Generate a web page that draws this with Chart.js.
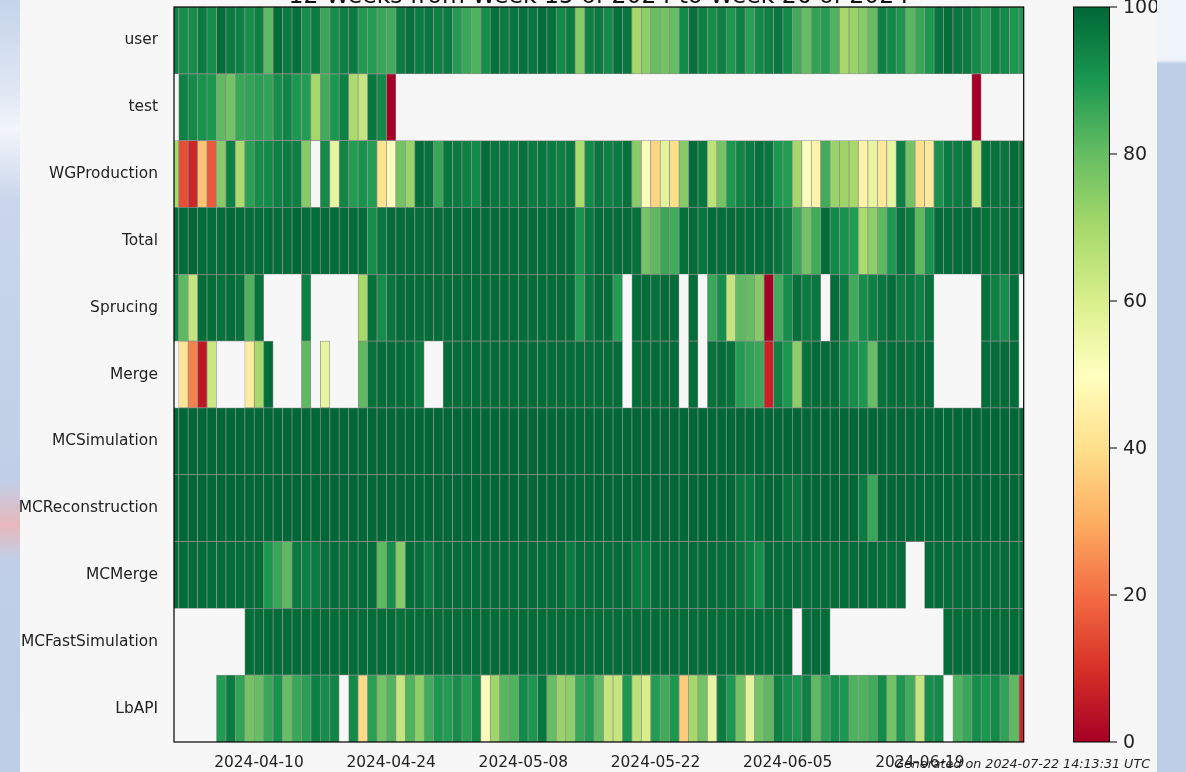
<!DOCTYPE html>
<html>
<head>
<meta charset="utf-8">
<script src="https://cdn.jsdelivr.net/npm/chart.js@4"></script>
<style>
  html, body { margin: 0; padding: 0; }
  body {
    width: 1186px; height: 772px; overflow: hidden; position: relative;
    background:
      linear-gradient(to bottom, #eef4f9 0, #eef4f9 60px, #bccde6 64px) right top / 29px 100% no-repeat,
      linear-gradient(to bottom, #c5d4ea 0, #dfe7f3 90px, #f2f5fa 130px, #c9d6eb 200px, #c0cfe7 480px, #e7b8bc 525px, #c0cfe7 560px, #bccde6 100%) left top / 20px 100% no-repeat,
      #bccde6;
  }
  #wrap { position: absolute; left: 20px; top: 0; width: 1137px; height: 772px; overflow: hidden; }
  #chart { position: absolute; left: -20px; top: 0; }
</style>
</head>
<body>
<div id="wrap"><canvas id="chart" width="1186" height="772"></canvas></div>
<script>
const _ = null;

const rowLabels = ['user', 'test', 'WGProduction', 'Total', 'Sprucing', 'Merge',
  'MCSimulation', 'MCReconstruction', 'MCMerge', 'MCFastSimulation', 'LbAPI'];

// one value per day, day 0 = 2024-04-01 (null = no data)
const user = [
  95,92,92,96,92,99,96,95,92,95, 81,99,96,98,92,96,86,92,95,96,
  89,89,86,85,96,98,96,97,95,96, 89,86,83,92,98,96,97,98,97,99,
  98,93,96,75,95,96,93,98,97,70, 74,80,78,80,93,98,95,92,95,90,
  95,88,93,95,97,93,85,80,87,89, 83,70,72,75,80,95,93,90,82,86,
  90,97,99,97,96,93,89,95,93,90, 90];
const test = [
  _,95,93,91,90,81,78,86,87,88, 87,92,94,90,89,70,85,90,95,69,
  64,97,93,0,_,_,_,_,_,_, _,_,_,_,_,_,_,_,_,_,
  _,_,_,_,_,_,_,_,_,_, _,_,_,_,_,_,_,_,_,_,
  _,_,_,_,_,_,_,_,_,_, _,_,_,_,_,_,_,_,_,_,
  _,_,_,_,_,0,_,_,_,_, _];
const wgProduction = [
  70,15,8,34,17,75,95,69,88,92, 93,95,96,95,75,_,93,56,94,89,
  91,89,41,51,78,72,99,98,86,97, 96,95,93,99,97,97,96,98,96,97,
  96,95,97,69,93,97,95,96,98,75, 51,38,57,40,75,99,97,66,78,90,
  94,96,98,97,90,89,70,51,46,85, 72,71,70,46,56,43,56,95,78,40,
  43,91,96,96,97,64,98,98,97,99, 98];
const total = [
  99,99,100,99,99,99,100,99,99,99, 99,99,99,100,99,99,99,99,99,99,
  99,92,97,99,99,99,99,99,99,99, 99,99,99,99,99,99,99,99,99,99,
  99,99,99,91,97,99,99,99,99,98, 78,81,86,85,98,99,97,99,99,99,
  99,99,99,99,97,95,86,78,85,99, 93,91,89,69,74,81,90,98,96,81,
  91,99,99,99,99,99,98,98,98,99, 99];
const sprucing = [
  95,81,64,99,99,98,99,98,83,98, _,_,_,_,95,_,_,_,_,_,
  70,98,92,97,99,99,99,99,99,99, 99,99,99,99,99,99,99,99,99,99,
  99,99,99,89,97,99,99,89,_,99, 99,98,99,99,_,99,_,86,92,64,
  81,80,75,0,85,92,98,96,97,_, 99,96,85,92,95,97,99,96,97,95,
  98,_,_,_,_,_,98,95,92,98, _];
const merge = [
  _,42,23,5,63,_,_,_,44,70, 99,_,_,_,81,_,56,_,_,_,
  81,98,99,99,99,99,96,_,_,99, 99,99,99,99,99,99,99,99,99,99,
  99,99,99,99,99,99,99,99,_,99, 99,99,99,99,_,99,_,98,99,98,
  89,87,86,7,95,90,74,98,99,99, 99,95,92,90,80,98,99,99,98,99,
  99,_,_,_,_,_,99,99,99,99, _];
const mcSimulation = [
  100,100,100,100,100,100,100,100,100,100, 100,100,100,100,100,100,100,100,100,100,
  100,100,100,100,100,100,100,100,100,100, 100,100,100,100,100,100,100,100,100,100,
  100,100,100,100,100,100,100,100,100,100, 100,100,100,100,100,100,100,100,100,100,
  100,100,100,100,100,100,100,100,100,100, 100,100,100,100,100,100,100,100,100,100,
  100,100,100,100,100,100,100,100,100,100, 100];
const mcReconstruction = [
  100,100,100,100,100,100,100,100,100,100, 100,100,100,100,100,100,100,100,100,100,
  100,100,100,100,100,100,100,100,100,100, 100,100,100,100,100,100,100,100,100,100,
  100,100,100,100,100,100,100,100,100,100, 100,100,100,100,100,100,100,100,100,100,
  97,97,99,100,100,98,97,100,100,100, 100,100,100,96,86,100,100,100,100,100,
  100,100,100,100,100,100,100,100,100,100, 100];
const mcMerge = [
  99,99,99,99,99,99,99,99,99,99, 90,86,81,96,95,96,98,99,98,99,
  99,99,81,92,75,99,99,96,99,99, 99,99,99,99,99,99,99,99,99,99,
  99,99,96,99,99,99,99,99,99,96, 96,99,99,99,99,99,99,99,99,99,
  97,95,92,99,99,99,99,99,99,99, 99,99,99,99,99,99,99,99,_,_,
  99,99,99,99,99,99,99,99,99,99, 99];
const mcFastSimulation = [
  _,_,_,_,_,_,_,_,99,99, 99,99,99,99,99,99,99,99,99,99,
  99,99,99,99,98,99,99,99,99,99, 99,99,99,99,99,99,99,99,99,99,
  99,99,99,99,99,99,99,99,99,99, 99,99,99,99,99,99,99,99,99,99,
  99,99,99,99,99,99,_,99,99,99, _,_,_,_,_,_,_,_,_,_,
  _,_,99,99,99,99,99,99,99,99, 99];
const lbApi = [
  _,_,_,_,_,89,96,87,78,80, 86,91,80,86,88,95,92,94,_,93,
  39,88,78,83,64,83,74,85,90,89, 92,88,93,51,71,82,83,93,90,97,
  80,72,74,86,89,81,64,64,90,66, 60,89,85,90,36,70,78,56,96,90,
  78,57,78,81,95,92,90,95,81,88, 92,90,83,83,85,93,78,90,85,64,
  92,93,_,83,86,92,90,93,87,81, 8];

const rows = [user, test, wgProduction, total, sprucing, merge,
  mcSimulation, mcReconstruction, mcMerge, mcFastSimulation, lbApi];

const tickDays = [9, 23, 37, 51, 65, 79];
const tickLabels = ['2024-04-10', '2024-04-24', '2024-05-08', '2024-05-22', '2024-06-05', '2024-06-19'];
const cbTicks = [0, 20, 40, 60, 80, 100];

const titleText = '12 Weeks from Week 15 of 2024 to Week 26 of 2024';
const footerText = 'Generated on 2024-07-22 14:13:31 UTC';

// matplotlib RdYlGn
const rdylgn = ['#a50026', '#d73027', '#f46d43', '#fdae61', '#fee08b', '#ffffbf',
  '#d9ef8b', '#a6d96a', '#66bd63', '#1a9850', '#006837'];

function hexRgb(h) {
  return [parseInt(h.slice(1, 3), 16), parseInt(h.slice(3, 5), 16), parseInt(h.slice(5, 7), 16)];
}
function colorFor(v) {
  const t = Math.max(0, Math.min(100, v)) / 10;
  const i = Math.min(9, Math.floor(t));
  const f = t - i;
  const a = hexRgb(rdylgn[i]), b = hexRgb(rdylgn[i + 1]);
  const c = a.map((x, k) => Math.round(x + (b[k] - x) * f));
  return `rgb(${c[0]},${c[1]},${c[2]})`;
}

const cells = [];
rows.forEach((vals, r) => {
  vals.forEach((v, d) => {
    if (v !== null) cells.push({ x: [d - 0.5, d + 0.5], y: rowLabels[r], v: v });
  });
});

const FONT = 'DejaVu Sans';

const decorations = {
  id: 'decorations',
  beforeDraw(chart) {
    const c = chart.ctx;
    c.save();
    c.fillStyle = '#f7f7f7';
    c.fillRect(0, 0, chart.width, chart.height);
    c.restore();
  },
  afterDraw(chart) {
    const c = chart.ctx;
    const a = chart.chartArea;
    c.save();
    // frame
    c.strokeStyle = '#000';
    c.lineWidth = 1.2;
    c.strokeRect(a.left, a.top, a.right - a.left, a.bottom - a.top);

    // title (cut off at the top)
    c.fillStyle = '#111';
    c.font = `23.5px "${FONT}"`;
    c.textAlign = 'center';
    c.textBaseline = 'alphabetic';
    c.fillText(titleText, (a.left + a.right) / 2, 3);

    // colour bar
    const x0 = 1073, x1 = 1110;
    const g = c.createLinearGradient(0, a.bottom, 0, a.top);
    rdylgn.forEach((col, i) => g.addColorStop(i / 10, col));
    c.fillStyle = g;
    c.fillRect(x0, a.top, x1 - x0, a.bottom - a.top);
    c.lineWidth = 1;
    c.strokeStyle = '#000';
    c.strokeRect(x0 + 0.5, a.top, x1 - x0 - 1, a.bottom - a.top);
    c.font = `19px "${FONT}"`;
    c.textAlign = 'left';
    c.textBaseline = 'middle';
    c.fillStyle = '#222';
    cbTicks.forEach(v => {
      const y = a.bottom - v / 100 * (a.bottom - a.top);
      c.beginPath();
      c.moveTo(x1, y);
      c.lineTo(x1 + 7, y);
      c.stroke();
      c.fillText(String(v), x1 + 13, y + 1);
    });

    // footer
    c.font = `italic 12.7px "${FONT}"`;
    c.textAlign = 'right';
    c.textBaseline = 'alphabetic';
    c.fillStyle = '#222';
    c.fillText(footerText, 1150, 768);
    c.restore();
  }
};

new Chart(document.getElementById('chart'), {
  type: 'bar',
  data: {
    labels: rowLabels,
    datasets: [{
      data: cells,
      backgroundColor: ctx => colorFor(ctx.raw.v),
      borderColor: '#8e8e8e',
      borderWidth: 0.7,
      borderSkipped: false,
      barPercentage: 1,
      categoryPercentage: 1,
      grouped: false
    }]
  },
  options: {
    indexAxis: 'y',
    responsive: false,
    animation: false,
    devicePixelRatio: 1,
    layout: { padding: { left: 0, right: 162.3, top: 7, bottom: 0 } },
    scales: {
      x: {
        type: 'linear',
        min: 0,
        max: 90,
        grid: { display: false, drawTicks: false },
        border: { display: false },
        afterBuildTicks: s => { s.ticks = tickDays.map(v => ({ value: v })); },
        afterFit: s => { s.height = 30; s.paddingLeft = 0; s.paddingRight = 0; },
        ticks: {
          autoSkip: false,
          maxRotation: 0,
          padding: 12,
          color: '#222',
          font: { family: FONT, size: 15.4 },
          callback: (v, i) => tickLabels[i]
        }
      },
      y: {
        type: 'category',
        labels: rowLabels,
        offset: true,
        grid: { display: false, drawTicks: false },
        border: { display: false },
        afterFit: s => { s.width = 174; s.paddingTop = 0; s.paddingBottom = 0; },
        ticks: {
          padding: 16,
          color: '#222',
          font: { family: FONT, size: 15.4 }
        }
      }
    },
    plugins: {
      legend: { display: false },
      tooltip: { enabled: false }
    }
  },
  plugins: [decorations]
});
</script>
</body>
</html>
